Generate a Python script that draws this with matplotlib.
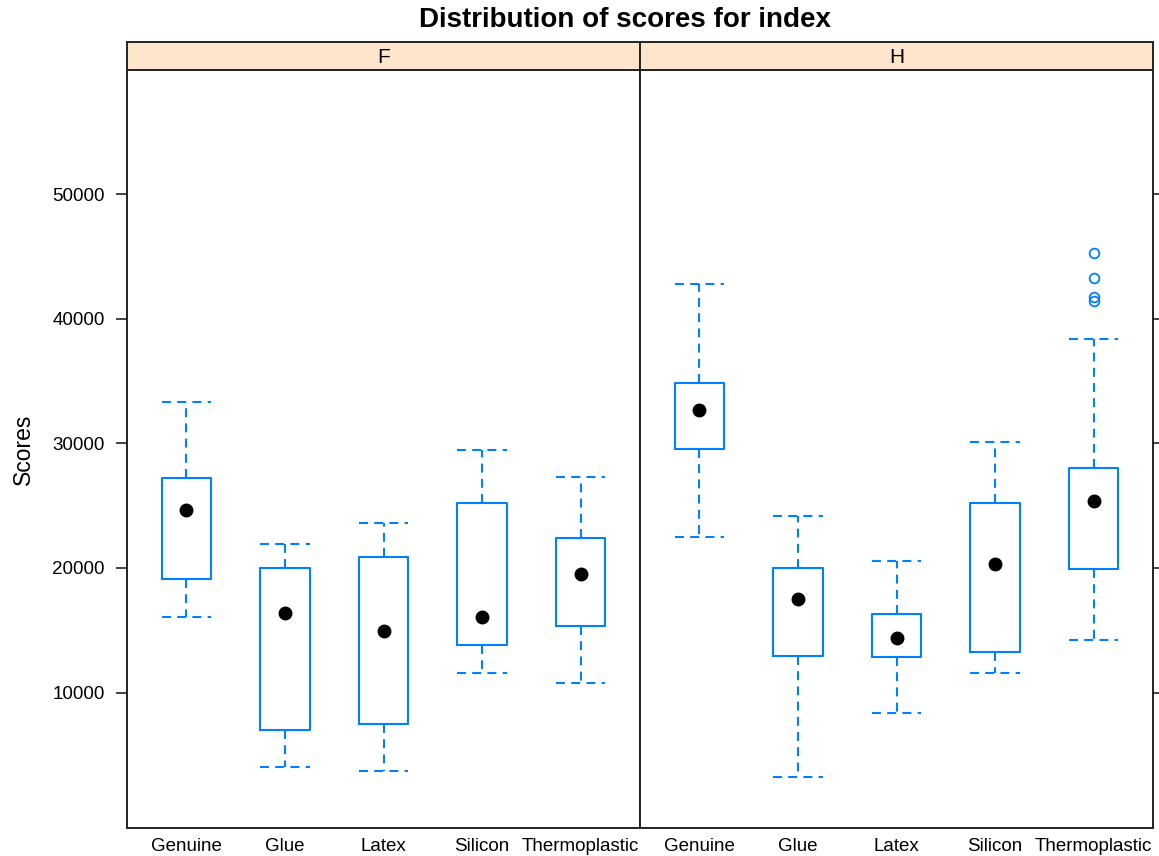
import numpy as np
import matplotlib.pyplot as plt

plt.rcParams['font.family'] = ['Liberation Sans', 'DejaVu Sans']

categories = ['Genuine', 'Glue', 'Latex', 'Silicon', 'Thermoplastic']
panels = ['F', 'H']
yticks = [10000, 20000, 30000, 40000, 50000]

# box summaries (whisker low, q1, median, q3, whisker high)
f_low = [16100, 4000, 3700, 11600, 10800]
f_q1 = [19100, 7000, 7500, 13800, 15350]
f_med = [24650, 16400, 14950, 16050, 19500]
f_q3 = [27250, 20000, 20900, 25200, 22400]
f_high = [33350, 21950, 23600, 29500, 27300]

h_low = [22450, 3250, 8350, 11550, 14250]
h_q1 = [29550, 12950, 12850, 13250, 19900]
h_med = [32650, 17500, 14400, 20300, 25400]
h_q3 = [34850, 20000, 16300, 25200, 28050]
h_high = [42750, 24150, 20550, 30100, 38400]
h_thermo_out = [45300, 43300, 41700, 41450]

blue = '#0080ff'
frame = '#222222'
dash = (0, (4.3, 3))


def make_stats(low, q1, med, q3, high, outliers):
    st = []
    for i in range(len(categories)):
        st.append(dict(whislo=low[i], q1=q1[i], med=med[i], q3=q3[i],
                       whishi=high[i], fliers=outliers.get(i, [])))
    return st


data = {
    'F': make_stats(f_low, f_q1, f_med, f_q3, f_high, {}),
    'H': make_stats(h_low, h_q1, h_med, h_q3, h_high, {4: h_thermo_out}),
}
medians = {'F': f_med, 'H': h_med}

W, H = 1159, 856
fig = plt.figure(figsize=(W / 100, H / 100), dpi=100)

left, right, top, bottom = 127, 1153, 70, 828
pw = (right - left) / 2
strip_h = 28

for k, p in enumerate(panels):
    x0 = left + k * pw
    ax = fig.add_axes([x0 / W, 1 - bottom / H, pw / W, (bottom - top) / H])
    pos = np.arange(1, len(categories) + 1)
    ax.bxp(data[p], positions=pos, widths=0.5, showfliers=True,
           boxprops=dict(color=blue, lw=1.5),
           whiskerprops=dict(color=blue, lw=1.5, linestyle=dash),
           capprops=dict(color=blue, lw=1.5, linestyle=dash),
           capwidths=0.5,
           medianprops=dict(visible=False),
           flierprops=dict(marker='o', markersize=7, markerfacecolor='none',
                           markeredgecolor=blue, markeredgewidth=1.3))
    ax.plot(pos, medians[p], 'o', color='black', markersize=9, zorder=5)
    ax.set_xlim(0.4, 5.6)
    ax.set_ylim(-860, 59950)
    ax.set_yticks(yticks)
    ax.set_xticks(pos)
    ax.set_xticklabels(categories, fontsize=13.5)
    ax.tick_params(axis='x', length=0, pad=7)
    if k == 0:
        ax.tick_params(axis='y', left=True, right=False, labelleft=True,
                       length=8, width=1.2, color=frame, labelsize=13.5, pad=8)
    else:
        ax.tick_params(axis='y', left=False, right=True, labelleft=False,
                       length=8, width=1.2, color=frame)
    for s in ax.spines.values():
        s.set_color(frame)
        s.set_linewidth(1.4)

    sax = fig.add_axes([x0 / W, 1 - top / H, pw / W, strip_h / H])
    sax.set_facecolor('#ffe5cc')
    sax.set_xticks([])
    sax.set_yticks([])
    for s in sax.spines.values():
        s.set_color(frame)
        s.set_linewidth(1.4)
    sax.text(0.5, 0.45, p, ha='center', va='center', fontsize=15,
             transform=sax.transAxes)

fig.text(625 / W, 1 - 20 / H, 'Distribution of scores for index',
         ha='center', va='center', fontsize=20, fontweight='bold')
fig.text(23 / W, 1 - 449 / H, 'Scores', ha='center', va='center',
         rotation=90, fontsize=16.5)

plt.savefig('out.png', dpi=100)
